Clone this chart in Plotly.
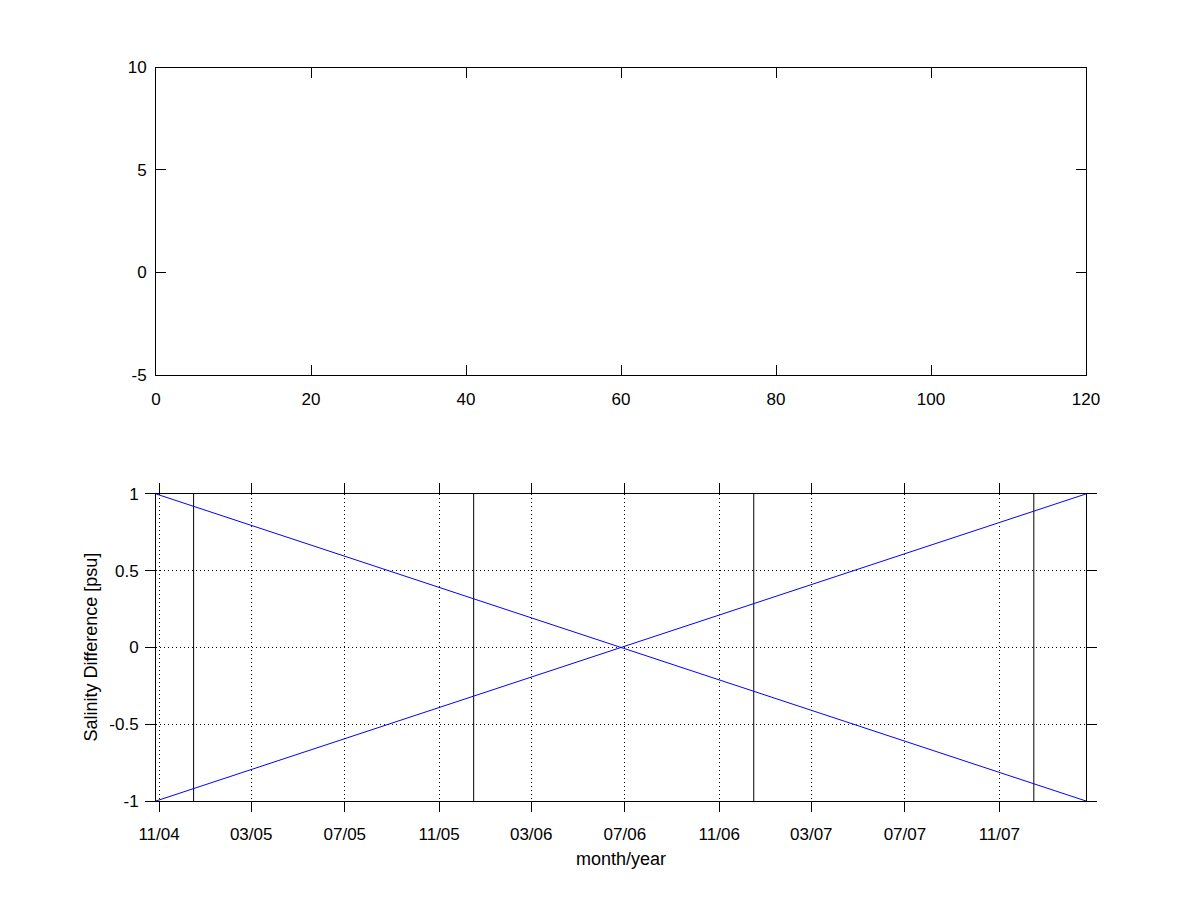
import plotly.graph_objects as go

# ---- data ----
top_xticks = [0, 20, 40, 60, 80, 100, 120]
top_yticks = [-5, 0, 5, 10]
top_yticktext = ["-5", "0", "5", "10"]

line_x = ["2004-10-28", "2008-02-22"]
line_down_y = [1, -1]
line_up_y = [-1, 1]

vline_dates = ["2004-12-16", "2005-12-16", "2006-12-16", "2007-12-16"]

date_tickvals = ["2004-11-01", "2005-03-01", "2005-07-01", "2005-11-01",
                 "2006-03-01", "2006-07-01", "2006-11-01", "2007-03-01",
                 "2007-07-01", "2007-11-01"]
date_ticktext = ["11/04", "03/05", "07/05", "11/05", "03/06", "07/06",
                 "11/06", "03/07", "07/07", "11/07"]
bottom_yticks = [-1, -0.5, 0, 0.5, 1]
bottom_yticktext = ["-1", "-0.5", "0", "0.5", "1"]

FONT = "Liberation Sans, Arial, Helvetica, sans-serif"
tickfont = dict(family=FONT, size=17, color="black")

fig = go.Figure()

# empty top axes need an invisible trace to exist
fig.add_trace(go.Scatter(x=[None], y=[None], xaxis="x", yaxis="y",
                         mode="lines", showlegend=False, hoverinfo="skip"))

for d in vline_dates:
    fig.add_trace(go.Scatter(x=[d, d], y=[-1, 1], xaxis="x2", yaxis="y2",
                             mode="lines", line=dict(color="black", width=1),
                             showlegend=False))

fig.add_trace(go.Scatter(x=line_x, y=line_down_y, xaxis="x2", yaxis="y2",
                         mode="lines", line=dict(color="#0000ff", width=1),
                         showlegend=False))
fig.add_trace(go.Scatter(x=line_x, y=line_up_y, xaxis="x2", yaxis="y2",
                         mode="lines", line=dict(color="#0000ff", width=1),
                         showlegend=False))

common = dict(showline=True, linecolor="black", linewidth=1, mirror="ticks",
              ticklen=10, tickwidth=1, tickcolor="black", tickfont=tickfont,
              zeroline=False, automargin=False)

fig.update_layout(
    width=1200, height=900,
    margin=dict(l=0, r=0, t=0, b=0),
    paper_bgcolor="white", plot_bgcolor="white",
    showlegend=False,
    xaxis=dict(domain=[0.13, 0.905], anchor="y", range=[0, 120],
               tickvals=top_xticks, ticks="inside", showgrid=False,
               ticklabelstandoff=9, **common),
    yaxis=dict(domain=[0.5838, 0.925], anchor="x", range=[-5, 10],
               tickvals=top_yticks, ticktext=top_yticktext,
               ticks="inside", showgrid=False,
               ticklabelstandoff=5, **common),
    xaxis2=dict(domain=[0.13, 0.905], anchor="y2", type="date",
                range=[line_x[0], line_x[-1]],
                tickvals=date_tickvals, ticktext=date_ticktext,
                ticks="outside", showgrid=True, gridcolor="black",
                gridwidth=1, griddash="1px,3px", ticklabelstandoff=8,
                **common),
    yaxis2=dict(domain=[0.11, 0.4512], anchor="x2", range=[-1, 1],
                tickvals=bottom_yticks, ticktext=bottom_yticktext,
                ticks="outside", showgrid=True, gridcolor="black",
                gridwidth=1, griddash="1px,3px", ticklabelstandoff=3,
                **common),
    annotations=[
        dict(text="month/year", xref="paper", yref="paper",
             x=(0.13 + 0.905) / 2, y=1 - 859 / 900, xanchor="center",
             yanchor="middle", showarrow=False,
             font=dict(family=FONT, size=18, color="black")),
        dict(text="Salinity Difference [psu]", xref="paper", yref="paper",
             x=91 / 1200, y=(0.11 + 0.4512) / 2, xanchor="center",
             yanchor="middle", textangle=-90, showarrow=False,
             font=dict(family=FONT, size=18, color="black")),
    ],
)

fig.write_html("out.html",
               config={"displayModeBar": False},
               post_script="document.body.style.margin='0px';")
